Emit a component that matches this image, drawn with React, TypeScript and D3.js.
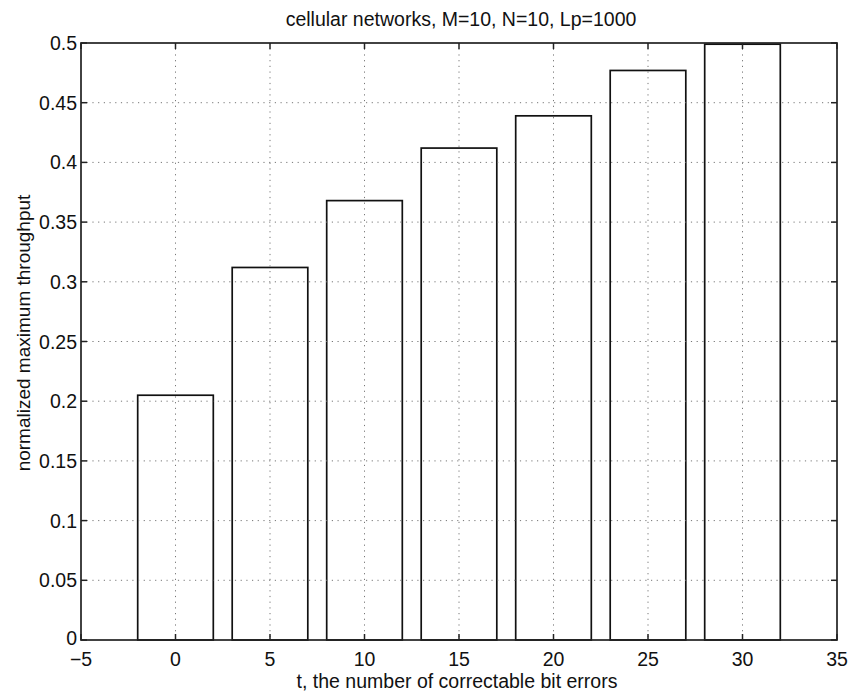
import React from "react";
import * as d3 from "d3";

// t values (bar centres) and throughput heights
const tValues = [0, 5, 10, 15, 20, 25, 30];
const throughput = [0.205, 0.312, 0.368, 0.412, 0.439, 0.477, 0.499];
const xTicks = [-5, 0, 5, 10, 15, 20, 25, 30, 35];
const yTicks = [0, 0.05, 0.1, 0.15, 0.2, 0.25, 0.3, 0.35, 0.4, 0.45, 0.5];

const titleText = "cellular networks, M=10, N=10, Lp=1000";
const xLabel = "t, the number of correctable bit errors";
const yLabel = "normalized maximum throughput";

const W = 848;
const H = 693;
const left = 81;
const right = 837;
const top = 43;
const bottom = 640;
const barWidth = 4;
const tickLen = 6;
const font = "'Liberation Sans', Arial, Helvetica, sans-serif";

export default function App() {
  const x = d3.scaleLinear().domain([-5, 35]).range([left, right]);
  const y = d3.scaleLinear().domain([0, 0.5]).range([bottom, top]);

  return (
    <svg width={W} height={H} style={{ position: "absolute", left: 0, top: 0, background: "#fff" }}>
      {/* bars */}
      {tValues.map((t, i) => (
        <rect
          key={"b" + i}
          x={x(t - barWidth / 2)}
          y={y(throughput[i])}
          width={x(t + barWidth / 2) - x(t - barWidth / 2)}
          height={y(0) - y(throughput[i])}
          fill="none"
          stroke="#111"
          strokeWidth={1.7}
        />
      ))}

      {/* grid */}
      <g stroke="#777" strokeWidth={1} strokeDasharray="1.2,4.5">
        {xTicks.slice(1, -1).map((t) => (
          <line key={"gx" + t} x1={x(t)} x2={x(t)} y1={top} y2={bottom} />
        ))}
        {yTicks.slice(1, -1).map((v) => (
          <line key={"gy" + v} x1={left} x2={right} y1={y(v)} y2={y(v)} />
        ))}
      </g>

      {/* axes box */}
      <rect x={left} y={top} width={right - left} height={bottom - top} fill="none" stroke="#222" strokeWidth={1.7} />

      {/* ticks */}
      <g stroke="#222" strokeWidth={1.5}>
        {xTicks.map((t) => (
          <g key={"tx" + t}>
            <line x1={x(t)} x2={x(t)} y1={bottom} y2={bottom - tickLen} />
            <line x1={x(t)} x2={x(t)} y1={top} y2={top + tickLen} />
          </g>
        ))}
        {yTicks.map((v) => (
          <g key={"ty" + v}>
            <line x1={left} x2={left + tickLen} y1={y(v)} y2={y(v)} />
            <line x1={right} x2={right - tickLen} y1={y(v)} y2={y(v)} />
          </g>
        ))}
      </g>

      {/* tick labels */}
      <g fontFamily={font} fontSize={19.5} fill="#111">
        {xTicks.map((t) => (
          <text key={"lx" + t} x={x(t)} y={666} textAnchor="middle">
            {t < 0 ? "\u2212" + Math.abs(t) : t}
          </text>
        ))}
        {yTicks.map((v) => (
          <text key={"ly" + v} x={left - 4} y={y(v) + (v === 0 ? 5 : 7)} textAnchor="end">
            {d3.format("~g")(v)}
          </text>
        ))}
      </g>

      {/* labels */}
      <text x={461} y={26} textAnchor="middle" fontFamily={font} fontSize={19.5} fill="#111">
        {titleText}
      </text>
      <text x={457} y={688} textAnchor="middle" fontFamily={font} fontSize={19.5} fill="#111">
        {xLabel}
      </text>
      <text
        transform={`translate(30,333) rotate(-90)`}
        textAnchor="middle"
        fontFamily={font}
        fontSize={19}
        fill="#111"
      >
        {yLabel}
      </text>
    </svg>
  );
}
